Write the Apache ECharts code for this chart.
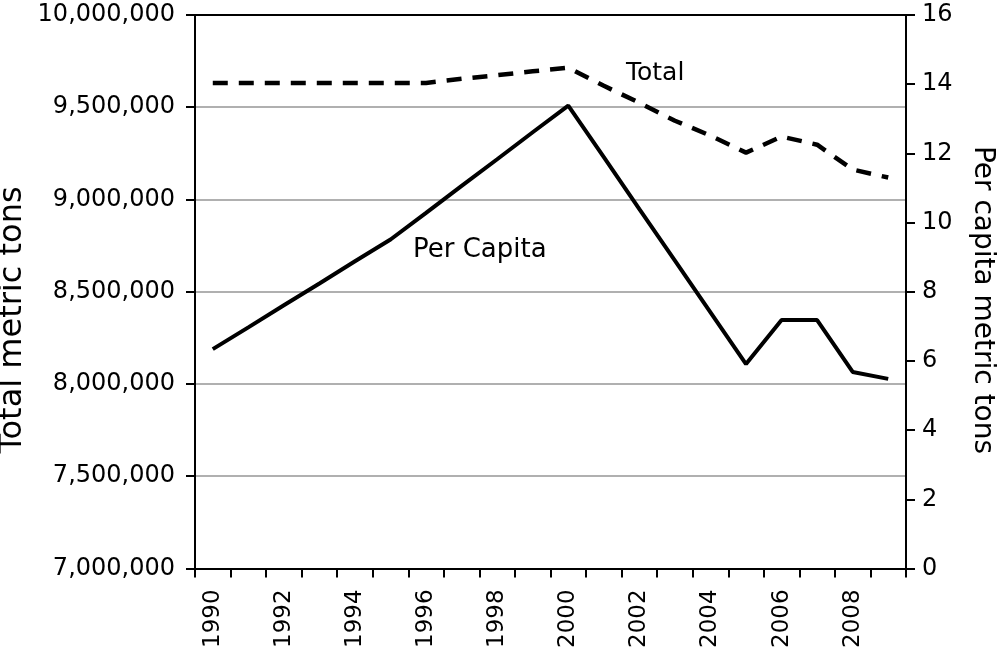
<!DOCTYPE html>
<html>
<head>
<meta charset="utf-8">
<script src="https://cdn.jsdelivr.net/npm/echarts@6/dist/echarts.min.js"></script>
<style>
  html, body { margin: 0; padding: 0; background: #fff; }
  #chart { width: 1000px; height: 651px; }
</style>
</head>
<body>
<div id="chart"></div>
<script>
const years = ['1990', '1991', '1992', '1993', '1994', '1995', '1996', '1997', '1998', '1999',
  '2000', '2001', '2002', '2003', '2004', '2005', '2006', '2007', '2008', '2009']
// total metric tons (left axis)
const totalTons = [9632000, 9632000, 9632000, 9632000, 9632000, 9632000, 9632000, 9654000, 9674000, 9695000,
  9714000, 9616000, 9524000, 9427000, 9346000, 9254000, 9341000, 9297000, 9162000, 9119000]
// per capita metric tons (right axis)
const perCapita = [6.34, 6.97, 7.61, 8.24, 8.88, 9.51, 10.28, 11.06, 11.83, 12.61,
  13.38, 11.89, 10.39, 8.9, 7.4, 5.91, 7.18, 7.18, 5.68, 5.48]
const leftTicks = { min: 7000000, max: 10000000, interval: 500000 }
const rightTicks = { min: 0, max: 16, interval: 2 }

const font = '"DejaVu Sans", sans-serif'

const chart = echarts.init(document.getElementById('chart'))
chart.setOption({
  backgroundColor: '#ffffff',
  animation: false,
  grid: { left: 195, right: 94, top: 15, bottom: 81 },
  xAxis: [
    {
      type: 'category',
      data: years,
      boundaryGap: true,
      axisLine: { lineStyle: { color: '#000', width: 2 } },
      axisTick: { show: true, interval: 0, length: 9, lineStyle: { color: '#000', width: 2 } },
      axisLabel: {
        interval: 1, rotate: 90, margin: 21, color: '#000',
        fontFamily: font, fontSize: 23
      }
    },
    {
      type: 'category',
      data: years,
      position: 'top',
      axisLine: { lineStyle: { color: '#000', width: 2 } },
      axisTick: { show: false },
      axisLabel: { show: false }
    }
  ],
  yAxis: [
    {
      type: 'value',
      min: leftTicks.min, max: leftTicks.max, interval: leftTicks.interval,
      axisLine: { show: true, lineStyle: { color: '#000', width: 2 } },
      axisTick: { show: true, length: 9, lineStyle: { color: '#000', width: 2 } },
      axisLabel: {
        margin: 20, color: '#000', fontFamily: font, fontSize: 24,
        formatter: v => v.toLocaleString('en-US')
      },
      splitLine: { lineStyle: { color: '#b0b0b0', width: 2 } }
    },
    {
      type: 'value',
      min: rightTicks.min, max: rightTicks.max, interval: rightTicks.interval,
      axisLine: { show: true, lineStyle: { color: '#000', width: 2 } },
      axisTick: { show: true, length: 9, lineStyle: { color: '#000', width: 2 } },
      axisLabel: { margin: 16, color: '#000', fontFamily: font, fontSize: 24 },
      splitLine: { show: false }
    }
  ],
  series: [
    {
      name: 'Total',
      type: 'line',
      data: totalTons,
      yAxisIndex: 0,
      symbol: 'none',
      lineStyle: { color: '#000', width: 4.5, type: [15, 11] }
    },
    {
      name: 'Per Capita',
      type: 'line',
      data: perCapita,
      yAxisIndex: 1,
      symbol: 'none',
      lineStyle: { color: '#000', width: 4 }
    }
  ],
  graphic: [
    // axis titles
    {
      type: 'text', x: 13, y: 320, rotation: Math.PI / 2,
      style: { text: 'Total metric tons', fontFamily: font, fontSize: 32, fill: '#000', align: 'center', verticalAlign: 'middle' }
    },
    {
      type: 'text', x: 982, y: 300, rotation: -Math.PI / 2,
      style: { text: 'Per capita metric tons', fontFamily: font, fontSize: 28, fill: '#000', align: 'center', verticalAlign: 'middle' }
    },
    // line labels
    { type: 'text', x: 626, y: 73, style: { text: 'Total', fontFamily: font, fontSize: 25, fill: '#000', verticalAlign: 'middle' } },
    { type: 'text', x: 413, y: 250, style: { text: 'Per Capita', fontFamily: font, fontSize: 26, fill: '#000', verticalAlign: 'middle' } }
  ]
})
</script>
</body>
</html>
